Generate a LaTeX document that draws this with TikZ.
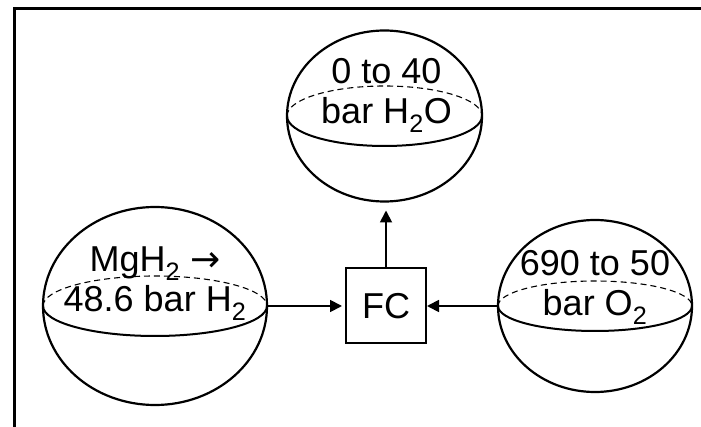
\documentclass[tikz,border=0pt]{standalone}
\usepackage{fontspec}
\setmainfont{Liberation Sans}
\newfontfamily\arrowfont{DejaVu Sans}
\usetikzlibrary{arrows.meta, positioning, shapes.geometric}
\tikzset{
  tank/.style    = {draw, ellipse, line width=2.2pt, inner sep=0pt, outer sep=0pt},
  tanktxt/.style = {font=\fontsize{36}{40}\selectfont, align=center, inner sep=0pt},
  rim/.style     = {line width=2pt},
  rimback/.style = {line width=1.1pt, dash pattern=on 6pt off 4pt},
  fcbox/.style   = {draw, line width=2pt, minimum width=80pt, minimum height=75pt,
                    font=\fontsize{36}{40}\selectfont, inner sep=0pt},
  flow/.style    = {-{Triangle[length=12pt, width=12pt]}, line width=1.8pt},
  frame/.style   = {line width=2.4pt},
}

\begin{document}
\begin{tikzpicture}[x=1pt, y=-1pt]
    \useasboundingbox (0,0) rectangle (701,427);
    \draw[frame] (14.5,427) |- (701,8.5);

    \node[fcbox] at (386,306)                                           (fc)  {FC};
    \node[tank, minimum width=224pt, minimum height=198pt, left=78pt of fc]   (h2)  {};
    \node[tank, minimum width=194pt, minimum height=172pt, right=71pt of fc]  (o2)  {};
    \node[tank, minimum width=195pt, minimum height=171pt, above=66pt of fc,
          xshift=-1.5pt]                                                (h2o) {};

    % equators: dashed back half, solid front half
    \foreach \t/\rx/\ry in {h2/112/30, o2/97/25, h2o/97.5/30} {
      \draw[rimback] (\t.west) arc[start angle=180, end angle=360, x radius=\rx, y radius=\ry];
      \draw[rim]     (\t.west) arc[start angle=180, end angle=0, x radius=\rx, y radius=\ry];
    }

    \node[tanktxt] at ([yshift=22pt]h2.center)  (h2txt)  {MgH\textsubscript{2} {\arrowfont →}\\48.6 bar H\textsubscript{2}};
    \node[tanktxt] at ([yshift=19pt]o2.center)  (o2txt)  {690 to 50\\bar O\textsubscript{2}};
    \node[tanktxt] at ([yshift=21pt,xshift=2pt]h2o.center) (h2otxt) {0 to 40\\bar H\textsubscript{2}O};

    \draw[flow, shorten >=3pt] (h2.east) -- (h2.east -| fc.west);
    \draw[flow] (o2.west) -- (o2.west -| fc.east);
    \draw[flow, shorten >=9pt] (fc.north) -- (fc.north |- h2o.south);
  \end{tikzpicture}
\end{document}
